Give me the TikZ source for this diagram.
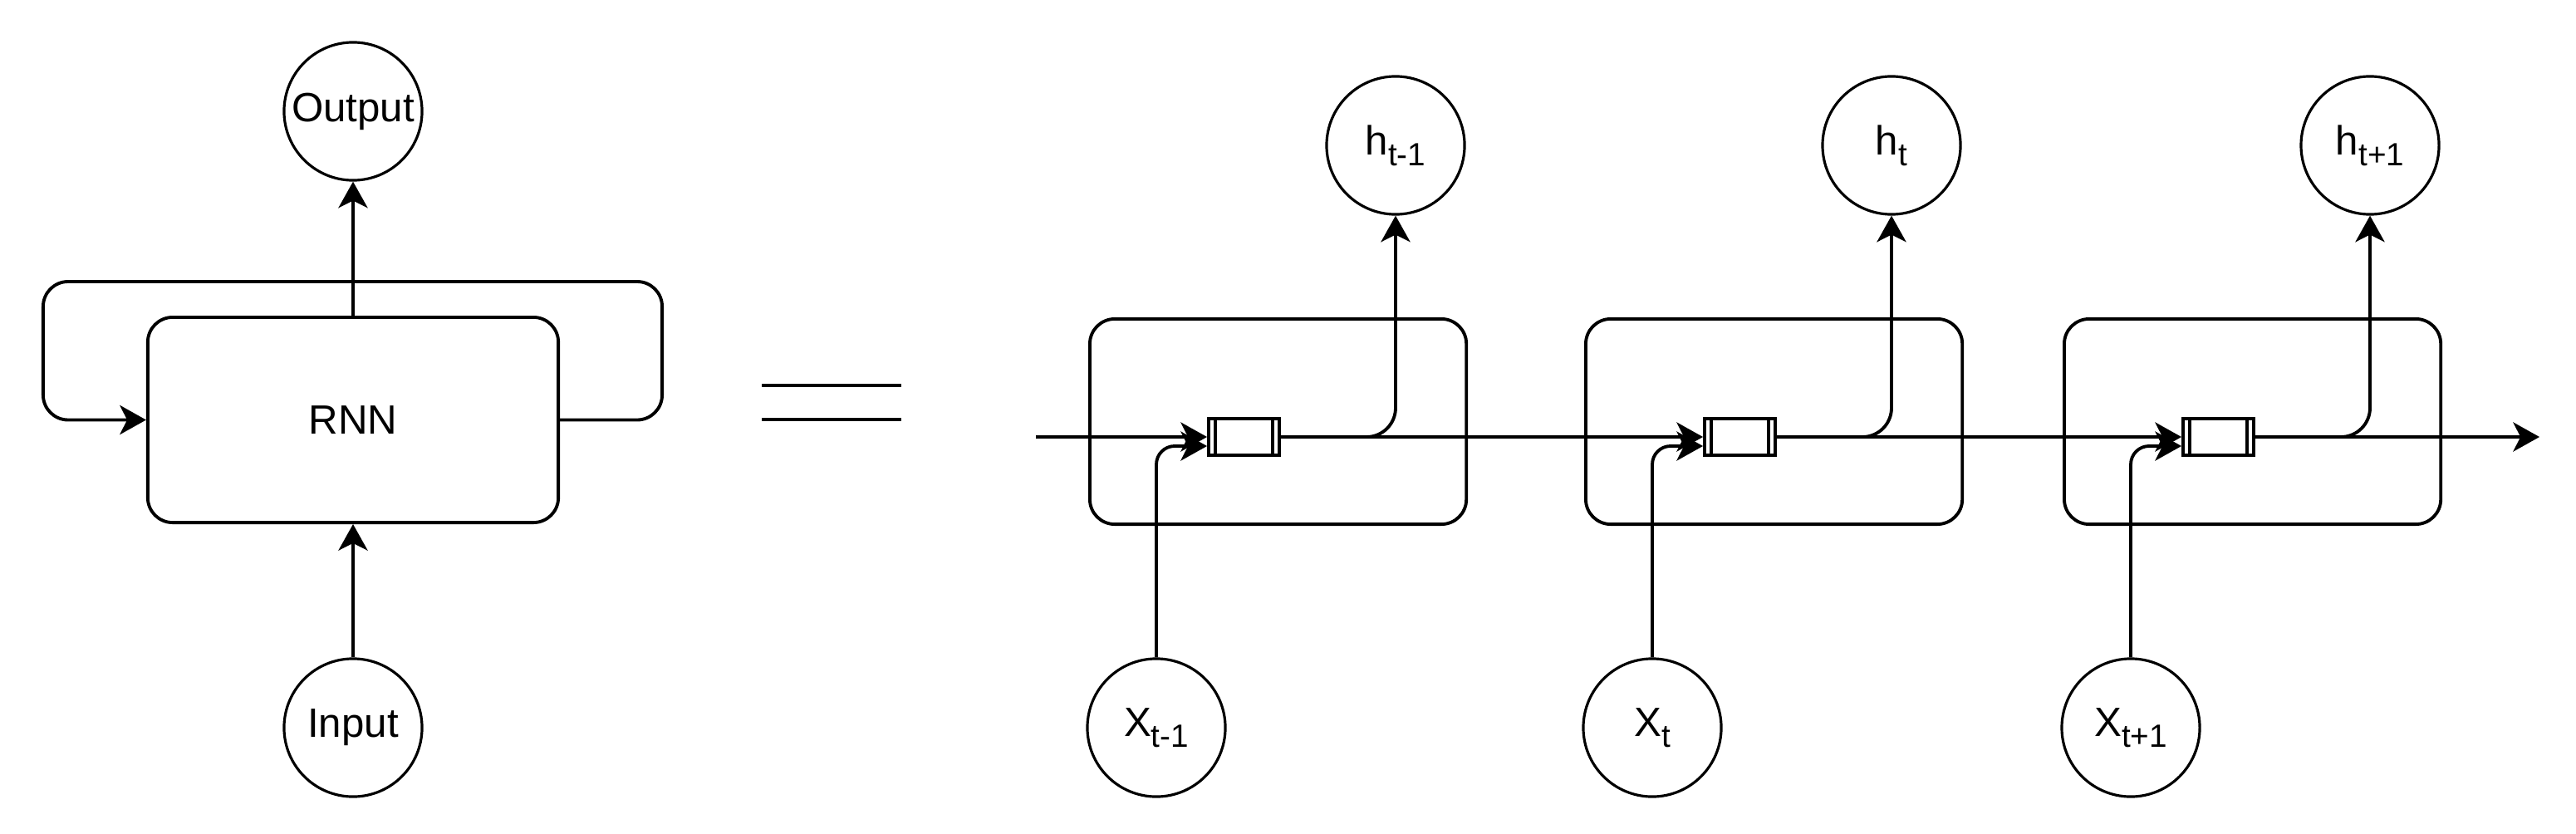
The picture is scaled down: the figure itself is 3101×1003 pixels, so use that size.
\documentclass[tikz,border=0pt]{standalone}
\usepackage{fontspec}
\setmainfont{Liberation Sans}
\usepackage{tikz}
\usetikzlibrary{arrows.meta,calc,positioning}
\newcommand{\subtxt}[1]{\raisebox{-.27em}{\fontsize{11}{13}\selectfont #1}}
\tikzset{
	rnn diagram/.style={
		x=.01cm, y=-.01cm,
		line width=1.1pt,
		font=\fontsize{14}{17}\selectfont,
		ar/.style={-{Stealth[length=9pt,width=10pt,inset=2.5pt]}},
		},
	cell/.style={draw, rounded corners=.3cm, minimum width=#1, minimum height=2.47cm, inner sep=0pt},
	cell/.default=4.53cm,
	st/.style={draw, circle, minimum size=1.66cm, inner sep=0pt, line width=.9pt},
	gate/.style={draw, minimum width=.85cm, minimum height=.44cm, inner sep=0pt,
		prefix after command={\pgfextra{\let\fixname\tikzlastnode}},
		append after command={\pgfextra{\draw
			($(\fixname.north west)+(10,0)$) -- ($(\fixname.south west)+(10,0)$)
			($(\fixname.north east)+(-10,0)$) -- ($(\fixname.south east)+(-10,0)$);}}}
}

\begin{document}
\begin{tikzpicture}[rnn diagram]
      \useasboundingbox (0,0) rectangle (3101,1003);
      \node[cell=4.94cm] (rnn) at (425,505.5) {RNN};
      \node[st] (output) at (425,134) {Output};
      \node[st] (input) at (425,876) {Input};
      \draw[ar] (rnn) -- (output);
      \draw[ar] (input) -- (rnn);
      \draw[ar, rounded corners=.3cm] (rnn.east) -- ++(123,0) |- ($(rnn.north)+(0,-41)$)
         -| ($(rnn.west)+(-124,0)$) -- (rnn.west);
      \draw[line width=1.3pt] (917,464) -- (1085,464) (917,505) -- (1085,505);
      \foreach \x/\i/\s in {1310/1/t-1, 1907/2/t, 2483/3/t+1} {
         \node[cell, anchor=north west] (cell\i) at (\x,382) {};
         \node[gate, anchor=west] (gate\i) at (\x+143,526) {};
         \node[st] (h\i) at (\x+370,175) {h\subtxt{\s}};
         \node[st] (x\i) at (\x+82,876) {X\subtxt{\s}};
         \draw[ar, rounded corners=.22cm] (x\i.north) |- ($(gate\i.west)+(0,11)$);
         \draw[ar, rounded corners=.35cm] (gate\i.east) -| (h\i.south);
      }
      \coordinate (start) at (1247,526);
      \coordinate (end) at (3057,526);
      \draw[ar] (start) -- (gate1);
      \draw[ar] (gate1) -- (gate2);
      \draw[ar] (gate2) -- (gate3);
      \draw[ar] (gate3) -- (end);
   \end{tikzpicture}
\end{document}
